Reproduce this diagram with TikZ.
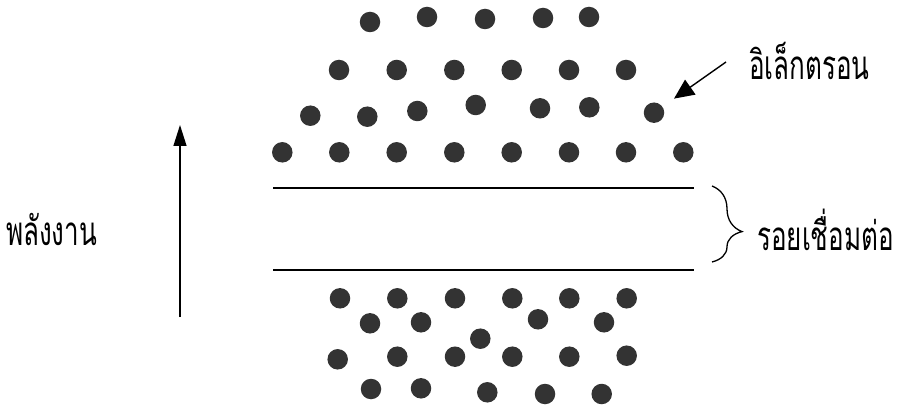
\documentclass[tikz,border=0pt]{standalone}
\usepackage{fontspec}
\newfontfamily\thaifont[Script=Thai]{Loma}
\usetikzlibrary{arrows.meta,decorations.pathreplacing}
\newcommand{\tallthai}[1]{\scalebox{1}[1.55]{\thaifont\fontsize{26}{30}\selectfont #1}}
\begin{document}
\begin{tikzpicture}[x=1pt,y=-1pt,
  dot/.style={circle,fill=black!80,inner sep=0pt,minimum size=20.5pt},
  lbl/.style={inner sep=0pt,anchor=west},
  pointer/.style={line width=1.4pt,-{Triangle[length=20pt,width=18pt]}},
  energyarrow/.style={line width=1.4pt,-{Triangle[length=21pt,width=13pt]}}]
\useasboundingbox (0,0) rectangle (900,409);
% upper electrons
\foreach \x/\y [count=\i] in {370/22,427/17,485/19,543/18,589/17,
  339/70,396.7/70,454.3/70,511.7/70,569/70,626/70,
  310.3/115.7,367.3/116.7,417.3/111,475.7/105,540/108.3,589.3/107.3,654/112.7,
  282.3/152.3,339.3/152.3,396.7/152.3,454.3/152.3,511.7/152.3,569/152.3,626/152.3,683.3/152.3}
  \node[dot] (u\i) at (\x,\y) {};
% lower electrons
\foreach \x/\y [count=\i] in {340/298.3,397.3/298.3,455/298.3,512.3/298.3,569.3/298.3,626.7/298.3,
  370/323.3,421/322.3,538/319.3,604/322.3,480.3/338.7,
  337.7/359.3,397.3/356.7,455/356.7,512.3/356.7,569.3/356.7,626.7/355.7,
  371/389,421/388.3,487.3/392.3,545/394,601.7/394}
  \node[dot] (d\i) at (\x,\y) {};
% junction lines
\coordinate (tl) at (273,188);
\coordinate (tr) at (694,188);
\coordinate (bl) at (273,270);
\coordinate (br) at (694,270);
\draw[line width=1.3pt] (tl) -- (tr);
\draw[line width=1.3pt] (bl) -- (br);
% brace
\coordinate (bt) at (712,186);
\coordinate (bb) at (712,262);
\draw[line width=1.3pt,decorate,decoration={brace,amplitude=30pt,aspect=0.6}] (bt) -- (bb);
\node[lbl] (junction) at (757,230) {\tallthai{รอยเชื่อมต่อ}};
% electron label
\node[lbl] (electron) at (749,61) {\tallthai{อิเล็กตรอน}};
\coordinate (ea) at (726,62);
\draw[pointer,shorten >=14pt] (ea) -- (u18);
% energy
\coordinate (e0) at (180,317);
\coordinate (e1) at (180,125);
\draw[energyarrow] (e0) -- (e1);
\node[lbl] (energy) at (6,230) {\tallthai{พลังงาน}};
\end{tikzpicture}
\end{document}
